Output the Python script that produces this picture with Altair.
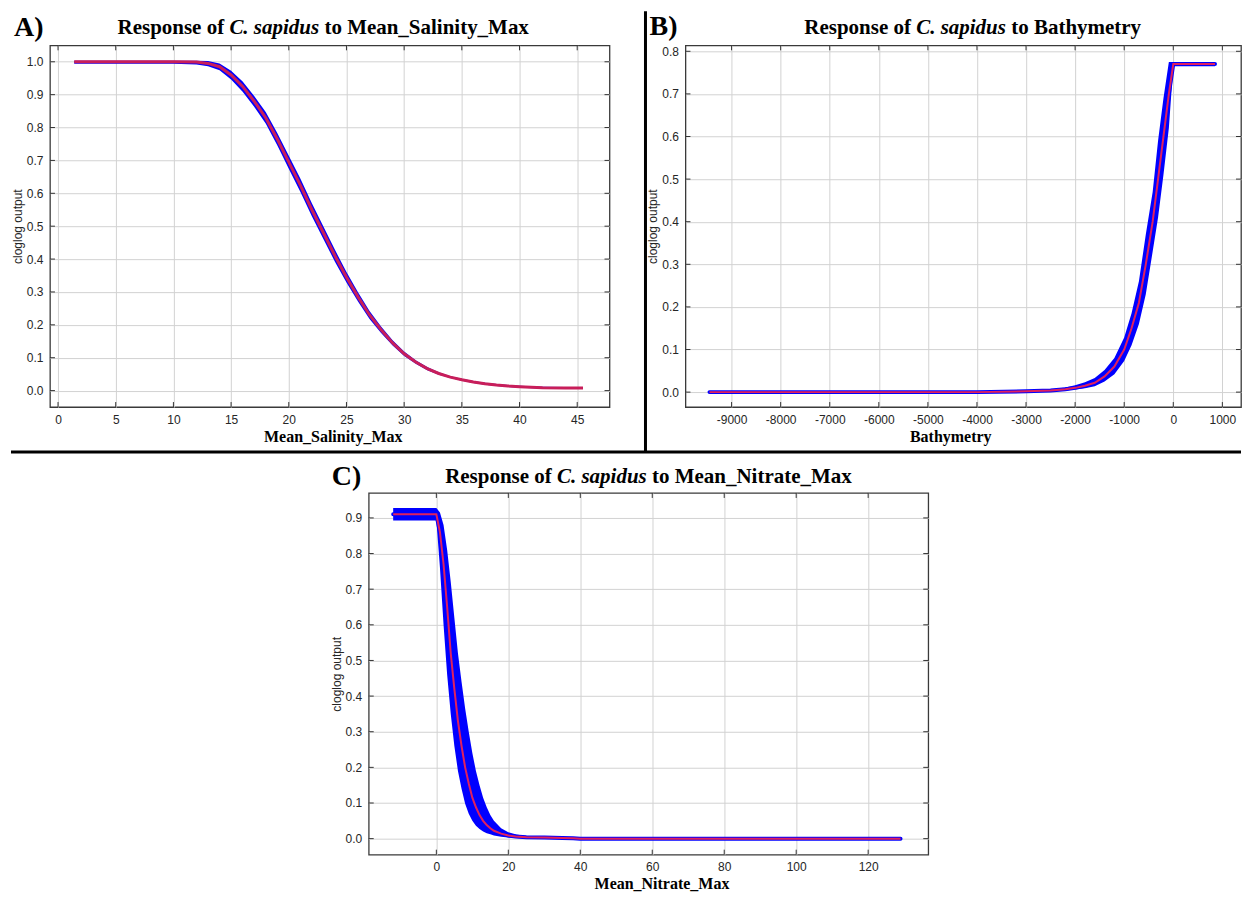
import altair as alt
import pandas as pd

# ---------------- Panel A: Mean_Salinity_Max ----------------
sal_x = [1.4, 5, 10, 12, 13, 14, 15, 16, 17, 18, 19, 20, 21, 22, 23, 24, 25, 26, 27, 28,
         29, 30, 31, 32, 33, 34, 35, 36, 37, 38, 39, 40, 42, 44, 45.5]
sal_y = [1.0, 1.0, 1.0, 0.999, 0.995, 0.985, 0.96, 0.925, 0.88, 0.83, 0.765, 0.695, 0.625,
         0.55, 0.48, 0.41, 0.345, 0.285, 0.23, 0.185, 0.145, 0.112, 0.087, 0.067, 0.052,
         0.041, 0.033, 0.026, 0.021, 0.017, 0.014, 0.012, 0.009, 0.008, 0.008]
sal_lo = [0.994, 0.994, 0.994, 0.992, 0.986, 0.974, 0.946, 0.909, 0.863, 0.812, 0.746, 0.675,
          0.605, 0.53, 0.461, 0.392, 0.329, 0.271, 0.218, 0.175, 0.137, 0.105, 0.082, 0.062,
          0.048, 0.038, 0.030, 0.023, 0.018, 0.014, 0.011, 0.009, 0.006, 0.005, 0.005]
sal_hi = [1.003, 1.003, 1.003, 1.003, 1.002, 0.995, 0.973, 0.94, 0.896, 0.847, 0.783, 0.714,
          0.645, 0.57, 0.499, 0.428, 0.361, 0.299, 0.242, 0.195, 0.153, 0.119, 0.092, 0.072,
          0.056, 0.044, 0.036, 0.029, 0.024, 0.020, 0.017, 0.015, 0.012, 0.011, 0.011]
sal_xticks = [0, 5, 10, 15, 20, 25, 30, 35, 40, 45]
sal_yticks = [0.0, 0.1, 0.2, 0.3, 0.4, 0.5, 0.6, 0.7, 0.8, 0.9, 1.0]

# ---------------- Panel B: Bathymetry ----------------
bat_x = [-9450, -6000, -4000, -3000, -2500, -2200, -2000, -1800, -1600, -1400, -1200,
         -1000, -850, -700, -560, -420, -310, -200, -90, 0, 850]
bat_y = [0.0, 0.0, 0.0, 0.002, 0.004, 0.007, 0.010, 0.015, 0.022, 0.037, 0.06, 0.10,
         0.15, 0.21, 0.30, 0.40, 0.50, 0.60, 0.70, 0.77, 0.77]
bat_lo = [0.0, 0.0, 0.0, 0.001, 0.002, 0.004, 0.006, 0.009, 0.014, 0.025, 0.042, 0.073,
          0.11, 0.16, 0.23, 0.33, 0.41, 0.51, 0.62, 0.765, 0.765]
bat_hi = [0.002, 0.002, 0.002, 0.003, 0.006, 0.011, 0.016, 0.023, 0.033, 0.052, 0.08,
          0.128, 0.185, 0.26, 0.37, 0.47, 0.59, 0.69, 0.775, 0.775, 0.775]
bat_xticks = [-9000, -8000, -7000, -6000, -5000, -4000, -3000, -2000, -1000, 0, 1000]
bat_yticks = [0.0, 0.1, 0.2, 0.3, 0.4, 0.5, 0.6, 0.7, 0.8]

# ---------------- Panel C: Mean_Nitrate_Max ----------------
nit_x = [-12, -5, 0, 1, 2, 3, 4, 5, 6, 7, 8, 9, 10, 11, 12, 13, 14, 15, 16, 18, 20, 22,
         25, 30, 35, 38, 40, 60, 90, 129]
nit_y = [0.91, 0.91, 0.91, 0.86, 0.77, 0.65, 0.52, 0.42, 0.33, 0.26, 0.20, 0.155, 0.115,
         0.088, 0.066, 0.05, 0.038, 0.029, 0.022, 0.014, 0.009, 0.006, 0.004, 0.003, 0.002,
         0.001, 0.0, 0.0, 0.0, 0.0]
nit_lo = [0.893, 0.893, 0.893, 0.76, 0.60, 0.46, 0.35, 0.26, 0.19, 0.14, 0.098, 0.07, 0.05,
          0.036, 0.027, 0.02, 0.015, 0.012, 0.009, 0.005, 0.003, 0.002, 0.001, 0.0, 0.0,
          0.0, 0.0, 0.0, 0.0, 0.0]
nit_hi = [0.928, 0.928, 0.928, 0.915, 0.88, 0.81, 0.72, 0.62, 0.52, 0.44, 0.365, 0.30, 0.24,
          0.19, 0.15, 0.115, 0.088, 0.066, 0.05, 0.029, 0.018, 0.012, 0.007, 0.004, 0.003,
          0.002, 0.001, 0.001, 0.001, 0.001]
nit_xticks = [0, 20, 40, 60, 80, 100, 120]
nit_yticks = [0.0, 0.1, 0.2, 0.3, 0.4, 0.5, 0.6, 0.7, 0.8, 0.9]

# ---------------- style ----------------
SERIF = "Liberation Serif"
SANS = "Liberation Sans"
BLUE = "#0000ff"
RED = "#e0205e"
GRID = "#d2d2d2"
TICKC = "#333333"
LABELC = "#262626"
H = 362
TITLE_SIZE = 21

# Times-bold / bold-italic advance widths (per 1000 em) for centring the mixed-style titles
TB = {' ': 250, 'R': 722, 'e': 444, 's': 389, 'p': 556, 'o': 500, 'n': 556, 'f': 333,
      't': 333, 'M': 944, 'a': 500, '_': 500, 'S': 556, 'l': 278, 'i': 278, 'y': 500,
      'x': 500, 'B': 667, 'h': 556, 'm': 833, 'r': 444, 'N': 722}
TBI = {'C': 667, '.': 250, ' ': 250, 's': 389, 'a': 500, 'p': 500, 'i': 278, 'd': 500,
       'u': 556}


def tw(s, table, size):
    return sum(table.get(c, 500) for c in s) * size / 1000.0


ONE = pd.DataFrame({"k": [0]})


def text_layer(x, y, txt, size, align="left", italic=False, weight="bold", font=SERIF):
    kw = dict(align=align, baseline="alphabetic", font=font, fontSize=size,
              fontWeight=weight, color="black")
    if italic:
        kw["fontStyle"] = "italic"
    return alt.Chart(ONE).mark_text(**kw).encode(
        x=alt.value(x), y=alt.value(y), text=alt.value(txt))


def title_layers(center, y, rest, size=TITLE_SIZE):
    pre, ital = "Response of", "C. sapidus"
    gap = 250 * size / 1000.0
    w_pre, w_it, w_rest = tw(pre, TB, size), tw(ital, TBI, size), tw(rest, TB, size)
    total = w_pre + gap + w_it + gap + w_rest
    left = center - total / 2
    x_pre_end = left + w_pre
    x_it = x_pre_end + gap
    x_rest = x_it + w_it + gap
    return [text_layer(x_pre_end, y, pre, size, align="right"),
            text_layer(x_it, y, ital, size, italic=True),
            text_layer(x_rest, y, rest, size)]


def panel(x, y, lo, hi, xdom, ydom, xticks, yticks, xtitle, width, xtitle_x,
          title_rest, title_center, label, label_x, title_y=-11, label_y=-9,
          xlabel_expr=None, blue_width=4, red_width=2, red_color=RED, extras=()):
    df = pd.DataFrame({"x": x, "y": y, "lo": lo, "hi": hi})
    xs = alt.Scale(domain=xdom, nice=False, zero=False)
    ys = alt.Scale(domain=ydom, nice=False, zero=False)

    xkw = dict(values=xticks, grid=True, gridColor=GRID, gridWidth=1, ticks=False,
               domain=False, labelFont=SANS, labelFontSize=12,
               labelColor=LABELC, labelPadding=7, labelOverlap=False, labelFlush=False,
               title=xtitle, titleFont=SERIF, titleFontSize=16, titleFontWeight="bold",
               titleColor="black", titlePadding=3, titleX=xtitle_x)
    if xlabel_expr:
        xkw["labelExpr"] = xlabel_expr
    else:
        xkw["format"] = "d"
    x_axis = alt.Axis(**xkw)
    y_axis = alt.Axis(
        values=yticks, format=".1f", grid=True, gridColor=GRID, gridWidth=1, ticks=False,
        domain=False, labelFont=SANS, labelFontSize=12, labelColor=LABELC,
        labelPadding=7, labelOverlap=False, labelFlush=False, title="cloglog output",
        titleFont=SANS, titleFontSize=12, titleFontWeight="normal", titleColor=LABELC,
        titlePadding=2)

    def X(f="x"):
        return alt.X(f + ":Q", scale=xs, axis=x_axis)

    def Y(f="lo"):
        return alt.Y(f + ":Q", scale=ys, axis=y_axis)

    base = alt.Chart(df)
    layers = [base.mark_area(color=BLUE, opacity=1).encode(x=X(), y=Y("lo"), y2="hi:Q")]
    if blue_width > 0:
        layers.append(base.mark_line(color=BLUE, strokeWidth=blue_width,
                                     strokeCap="round").encode(x=X(), y=Y("y")))
    layers.append(base.mark_line(color=red_color, strokeWidth=red_width).encode(
        x=X(), y=Y("y")))

    # inward tick marks on all four borders, placed through the shared scales
    xt = alt.Chart(pd.DataFrame({"x": xticks}))
    yt = alt.Chart(pd.DataFrame({"lo": yticks}))
    layers += [
        xt.mark_rule(color=TICKC, strokeWidth=1).encode(
            x=X(), y=alt.value(0), y2=alt.value(5)),
        xt.mark_rule(color=TICKC, strokeWidth=1).encode(
            x=X(), y=alt.value(H - 5), y2=alt.value(H)),
        yt.mark_rule(color=TICKC, strokeWidth=1).encode(
            y=Y("lo"), x=alt.value(0), x2=alt.value(5)),
        yt.mark_rule(color=TICKC, strokeWidth=1).encode(
            y=Y("lo"), x=alt.value(width - 5), x2=alt.value(width)),
    ]
    layers += title_layers(title_center, title_y, title_rest)
    layers.append(text_layer(label_x, label_y, label, 28))
    layers += list(extras)
    return alt.layer(*layers).properties(width=width, height=H)


W_A, W_B, W_C = 560, 556, 560

sep_v = alt.Chart(ONE).mark_rule(color="black", strokeWidth=3).encode(
    x=alt.value(596), y=alt.value(-34), y2=alt.value(407))
sep_h = alt.Chart(ONE).mark_rule(color="black", strokeWidth=3).encode(
    x=alt.value(-39), x2=alt.value(1192), y=alt.value(407))

A = panel(sal_x, sal_y, sal_lo, sal_hi, [-0.7, 47.8], [-0.05, 1.05], sal_xticks, sal_yticks,
          "Mean_Salinity_Max", W_A, 283, "to Mean_Salinity_Max", 273.5, "A)", -36,
          blue_width=0, red_width=3, red_color="#c81e5a", extras=(sep_v, sep_h))
B = panel(bat_x, bat_y, bat_lo, bat_hi, [-9940, 1380], [-0.035, 0.814], bat_xticks,
          bat_yticks, "Bathymetry", W_B, 265, "to Bathymetry", 287.5, "B)", -36,
          label_y=-10, xlabel_expr="toString(datum.value)")
C = panel(nit_x, nit_y, nit_lo, nit_hi, [-18.8, 136.7], [-0.045, 0.97], nit_xticks,
          nit_yticks, "Mean_Nitrate_Max", W_C, 293, "to Mean_Nitrate_Max", 280, "C)", -37,
          title_y=-10, label_y=-8)

spacer = alt.Chart(ONE).mark_point(opacity=0).encode(
    x=alt.value(0), y=alt.value(0)).properties(
    width=319, height=H, view=alt.ViewBackground(stroke="transparent"))

top = alt.hconcat(A, B, spacing=76, bounds="flush")
bottom = alt.hconcat(spacer, C, spacing=0, bounds="flush")
chart = alt.vconcat(top, bottom, spacing=7).properties(
    padding=0, background="white").configure_view(stroke="#3a3a3a", strokeWidth=1.3)

chart.save("out.html", embed_options={"renderer": "svg", "actions": False})
